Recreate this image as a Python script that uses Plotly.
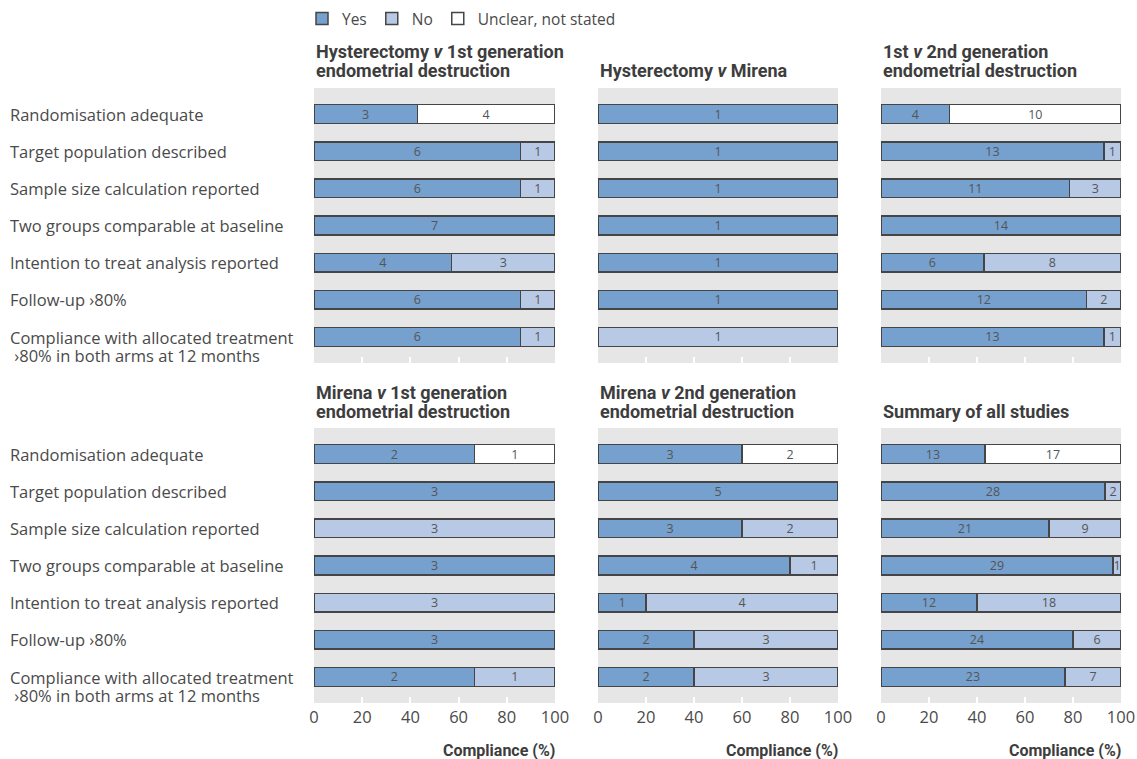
import plotly.graph_objects as go
from plotly.subplots import make_subplots

W, H = 1137, 759

categories = [
    "Randomisation adequate",
    "Target population described",
    "Sample size calculation reported",
    "Two groups comparable at baseline",
    "Intention to treat analysis reported",
    "Follow-up ›80%",
    "Compliance with allocated treatment<br> ›80% in both arms at 12 months",
]

panel_titles = [
    "Hysterectomy <i>v</i> 1st generation<br>endometrial destruction",
    "Hysterectomy <i>v</i> Mirena",
    "1st <i>v</i> 2nd generation<br>endometrial destruction",
    "Mirena <i>v</i> 1st generation<br>endometrial destruction",
    "Mirena <i>v</i> 2nd generation<br>endometrial destruction",
    "Summary of all studies",
]

series_names = ["Yes", "No", "Unclear, not stated"]

hyst_1st_yes = [3, 6, 6, 7, 4, 6, 6]
hyst_1st_no = [0, 1, 1, 0, 3, 1, 1]
hyst_1st_unclear = [4, 0, 0, 0, 0, 0, 0]

hyst_mirena_yes = [1, 1, 1, 1, 1, 1, 0]
hyst_mirena_no = [0, 0, 0, 0, 0, 0, 1]
hyst_mirena_unclear = [0, 0, 0, 0, 0, 0, 0]

first_second_yes = [4, 13, 11, 14, 6, 12, 13]
first_second_no = [0, 1, 3, 0, 8, 2, 1]
first_second_unclear = [10, 0, 0, 0, 0, 0, 0]

mirena_1st_yes = [2, 3, 0, 3, 0, 3, 2]
mirena_1st_no = [0, 0, 3, 0, 3, 0, 1]
mirena_1st_unclear = [1, 0, 0, 0, 0, 0, 0]

mirena_2nd_yes = [3, 5, 3, 4, 1, 2, 2]
mirena_2nd_no = [0, 0, 2, 1, 4, 3, 3]
mirena_2nd_unclear = [2, 0, 0, 0, 0, 0, 0]

summary_yes = [13, 28, 21, 29, 12, 24, 23]
summary_no = [0, 2, 9, 1, 18, 6, 7]
summary_unclear = [17, 0, 0, 0, 0, 0, 0]

panels = [
    (hyst_1st_yes, hyst_1st_no, hyst_1st_unclear),
    (hyst_mirena_yes, hyst_mirena_no, hyst_mirena_unclear),
    (first_second_yes, first_second_no, first_second_unclear),
    (mirena_1st_yes, mirena_1st_no, mirena_1st_unclear),
    (mirena_2nd_yes, mirena_2nd_no, mirena_2nd_unclear),
    (summary_yes, summary_no, summary_unclear),
]

tick_vals = [0, 20, 40, 60, 80, 100]
tick_text = ["0", "20", "40", "60", "80", "100"]

colors = ["#76a0cd", "#b7c9e5", "#ffffff"]
edge = "#454545"
txt = "#4a4a4a"
title_col = "#3d3d3d"
body_font = "Open Sans"
title_font = "Roboto"
BODY_SIZE = 16.5
TITLE_SIZE = 18

fig = make_subplots(rows=2, cols=3)

col_px = [(314, 555), (598, 838), (881, 1121)]
row_px = [(88, 363), (428, 703)]

for p, series in enumerate(panels):
    r, c = p // 3 + 1, p % 3 + 1
    totals = [sum(v) for v in zip(*series)]
    for s, vals in enumerate(series):
        xs = [v / t * 100 if v > 0 else None for v, t in zip(vals, totals)]
        tx = [str(v) if v > 0 else "" for v in vals]
        fig.add_trace(
            go.Bar(
                y=categories, x=xs, orientation="h", name=series_names[s],
                marker=dict(color=colors[s], line=dict(color=edge, width=1.5)),
                text=tx, textposition="inside", insidetextanchor="middle",
                textangle=0,
                textfont=dict(size=12.5, color="#555555", family=body_font),
                width=0.5, showlegend=(p == 0), legendgroup=series_names[s],
                hoverinfo="skip",
            ),
            row=r, col=c,
        )

fig.update_layout(
    width=W, height=H, autosize=False, barmode="stack",
    margin=dict(l=0, r=0, t=0, b=0, autoexpand=False),
    paper_bgcolor="white", plot_bgcolor="#e6e6e6",
    font=dict(family=body_font, color=txt, size=BODY_SIZE),
    uniformtext=dict(minsize=12, mode="show"),
    legend=dict(orientation="h", x=302 / W, xanchor="left", y=1 - 2 / H, yanchor="top",
                font=dict(size=15.5, color=txt), traceorder="normal",
                itemwidth=30, tracegroupgap=0),
)

annotations = []
for p in range(6):
    r, c = p // 3, p % 3
    ax = "" if p == 0 else str(p + 1)
    x0, x1 = col_px[c]
    y0, y1 = row_px[r]
    fig.layout[f"xaxis{ax}"].update(
        domain=[x0 / W, x1 / W], range=[0, 100], tickvals=tick_vals, ticktext=tick_text,
        ticks="inside", ticklen=6, tickcolor="white", tickwidth=1.5,
        showgrid=False, zeroline=False, showline=False, automargin=False,
        showticklabels=(r == 1), tickfont=dict(size=BODY_SIZE, color=txt),
        ticklabelstandoff=2,
    )
    fig.layout[f"yaxis{ax}"].update(
        domain=[1 - y1 / H, 1 - y0 / H], range=[6.7, -0.7],
        categoryorder="array", categoryarray=categories, automargin=False,
        showticklabels=False, showgrid=False, zeroline=False, ticks="",
    )
    lines = panel_titles[p].split("<br>")
    for k, line in enumerate(lines):
        annotations.append(dict(
            text=f"<b>{line}</b>", xref=f"x{ax} domain", yref=f"y{ax} domain",
            x=0, y=1, xanchor="left", yanchor="middle",
            yshift=17 + 19 * (len(lines) - 1 - k), align="left",
            showarrow=False, font=dict(family=title_font, size=TITLE_SIZE, color=title_col),
        ))
    if r == 1:
        annotations.append(dict(
            text="<b>Compliance (%)</b>", xref=f"x{ax} domain", yref=f"y{ax} domain",
            x=1, y=0, xanchor="right", yanchor="middle", yshift=-47, xshift=2,
            showarrow=False, font=dict(family=title_font, size=16, color=title_col),
        ))

for yref in ["y", "y4"]:
    for cat in categories:
        lines = cat.split("<br>")
        for k, line in enumerate(lines):
            annotations.append(dict(
                text=line, xref="paper", yref=yref, x=8 / W, y=cat,
                xanchor="left", yanchor="middle",
                yshift=(-1 - 18 * k) if len(lines) > 1 else 0,
                align="left", showarrow=False,
                font=dict(size=BODY_SIZE, color=txt, family=body_font),
            ))

fig.update_layout(annotations=annotations)
fig.write_html(
    "out.html",
    config={"responsive": False, "displayModeBar": False},
    post_script="document.body.style.margin='0';document.body.style.overflow='hidden';",
)
